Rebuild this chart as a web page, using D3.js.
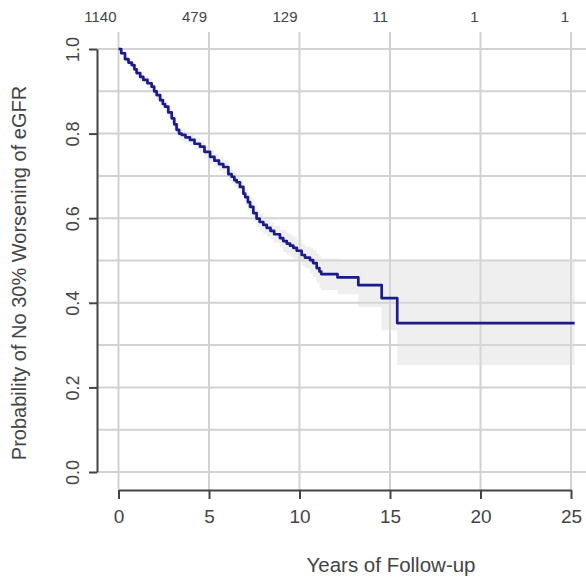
<!DOCTYPE html>
<html>
<head>
<meta charset="utf-8">
<script src="https://cdn.jsdelivr.net/npm/d3@7"></script>
<style>
  body { margin: 0; background: #fff; }
  svg { display: block; font-family: Arial, "Liberation Sans", sans-serif; }
</style>
</head>
<body>
<div id="chart"></div>
<script>
// Kaplan-Meier estimate
var times = [0, 0.15, 0.36, 0.55, 0.73, 0.88, 1.0, 1.2, 1.37, 1.6, 1.83, 1.97, 2.11, 2.3, 2.45, 2.57,
             2.75, 2.94, 3.08, 3.21, 3.35, 3.49, 3.7, 3.95, 4.2, 4.5, 4.75, 5.06, 5.3, 5.55, 5.79,
             6.07, 6.25, 6.4, 6.53, 6.71, 6.9, 7.0, 7.15, 7.27, 7.45, 7.63, 7.8, 8.0, 8.19, 8.4,
             8.6, 8.92, 9.1, 9.3, 9.48, 9.66, 9.85, 10.12, 10.3, 10.58, 10.75, 10.95, 11.1, 11.2,
             12.1, 13.25, 14.54, 15.4, 25.2]
var surv = [1.000, 0.990, 0.976, 0.968, 0.962, 0.952, 0.943, 0.934, 0.927, 0.919, 0.911, 0.900, 0.891, 0.879, 0.870, 0.864,
            0.850, 0.836, 0.822, 0.809, 0.800, 0.797, 0.791, 0.785, 0.776, 0.769, 0.757, 0.745, 0.736, 0.728, 0.721,
            0.704, 0.698, 0.690, 0.685, 0.674, 0.658, 0.650, 0.638, 0.627, 0.612, 0.599, 0.591, 0.584, 0.577, 0.570,
            0.562, 0.553, 0.546, 0.540, 0.535, 0.530, 0.523, 0.513, 0.507, 0.501, 0.494, 0.482, 0.474, 0.468,
            0.460, 0.442, 0.411, 0.352, 0.352]
var ciLower = [1.000, 0.984, 0.970, 0.959, 0.953, 0.943, 0.934, 0.925, 0.918, 0.907, 0.899, 0.888, 0.879, 0.867, 0.858, 0.852,
               0.838, 0.824, 0.808, 0.795, 0.786, 0.783, 0.777, 0.771, 0.762, 0.755, 0.743, 0.729, 0.720, 0.712, 0.705,
               0.688, 0.682, 0.674, 0.669, 0.658, 0.642, 0.630, 0.618, 0.607, 0.592, 0.579, 0.571, 0.564, 0.557, 0.550,
               0.542, 0.533, 0.520, 0.514, 0.509, 0.504, 0.497, 0.487, 0.481, 0.471, 0.462, 0.446, 0.436, 0.430,
               0.420, 0.390, 0.335, 0.253, 0.253]
var ciUpper = [1.000, 0.996, 0.982, 0.977, 0.971, 0.961, 0.952, 0.943, 0.936, 0.931, 0.923, 0.912, 0.903, 0.891, 0.882, 0.876,
               0.862, 0.848, 0.836, 0.823, 0.814, 0.811, 0.805, 0.799, 0.790, 0.783, 0.771, 0.761, 0.752, 0.744, 0.737,
               0.720, 0.714, 0.706, 0.701, 0.690, 0.674, 0.670, 0.658, 0.647, 0.632, 0.619, 0.611, 0.604, 0.597, 0.590,
               0.582, 0.573, 0.572, 0.566, 0.561, 0.556, 0.549, 0.539, 0.533, 0.531, 0.524, 0.516, 0.510, 0.505,
               0.500, 0.500, 0.500, 0.501, 0.501]

var xTicks = [0, 5, 10, 15, 20, 25]
var atRisk = [1140, 479, 129, 11, 1, 1]
var yTicks = [0, 0.2, 0.4, 0.6, 0.8, 1.0]
var yGrid = [0, 0.1, 0.2, 0.3, 0.4, 0.5, 0.6, 0.7, 0.8, 0.9, 1.0]

var width = 586
var height = 579

var svg = d3.select('#chart')
  .append('svg')
    .attr('width', width)
    .attr('height', height)

var x = d3.scaleLinear().domain([0, 25]).range([118.5, 571])
var y = d3.scaleLinear().domain([0, 1]).range([472, 49])

var axisX = 97
var axisY = 490

// grid
svg.append('g').selectAll('line')
  .data(xTicks)
  .enter().append('line')
    .attr('x1', function(d) { return x(d) })
    .attr('x2', function(d) { return x(d) })
    .attr('y1', 32)
    .attr('y2', axisY)
    .attr('stroke', '#d2d2d2')
    .attr('stroke-width', 2)

svg.append('g').selectAll('line')
  .data(yGrid)
  .enter().append('line')
    .attr('x1', axisX)
    .attr('x2', width)
    .attr('y1', function(d) { return y(d) })
    .attr('y2', function(d) { return y(d) })
    .attr('stroke', '#d2d2d2')
    .attr('stroke-width', 2)

var data = times.map(function(t, i) {
  return {t: t, s: surv[i], lo: ciLower[i], hi: ciUpper[i]}
})

// confidence band
var band = d3.area()
  .x(function(d) { return x(d.t) })
  .y0(function(d) { return y(d.lo) })
  .y1(function(d) { return y(d.hi) })
  .curve(d3.curveStepAfter)

svg.append('path')
  .datum(data)
  .attr('d', band)
  .attr('fill', '#dcdcdc')
  .attr('opacity', 0.45)

var line = d3.line()
  .x(function(d) { return x(d.t) })
  .y(function(d) { return y(d.s) })
  .curve(d3.curveStepAfter)

svg.append('path')
  .datum(data)
  .attr('d', line)
  .attr('fill', 'none')
  .attr('stroke', '#1b1b8c')
  .attr('stroke-width', 2.7)
  .attr('stroke-linejoin', 'round')

// x axis
var gx = svg.append('g')
  .attr('transform', 'translate(0,' + axisY + ')')
  .call(d3.axisBottom(x).tickValues(xTicks).tickSize(9).tickSizeOuter(0).tickPadding(11))
gx.select('.domain').attr('stroke', '#444').attr('stroke-width', 2)
gx.selectAll('.tick line').attr('stroke', '#444').attr('stroke-width', 2)
gx.selectAll('.tick text')
  .attr('fill', '#444')
  .style('font-size', '19px')

// y axis
var gy = svg.append('g')
  .attr('transform', 'translate(' + axisX + ',0)')
  .call(d3.axisLeft(y).tickValues(yTicks).tickSize(8).tickSizeOuter(0).tickFormat(d3.format('.1f')))
gy.select('.domain').attr('stroke', '#444').attr('stroke-width', 2)
gy.selectAll('.tick line').attr('stroke', '#444').attr('stroke-width', 2)
gy.selectAll('.tick text')
  .attr('x', 0)
  .attr('dy', 0)
  .attr('transform', 'translate(-18.5,0) rotate(-90)')
  .attr('text-anchor', 'middle')
  .attr('fill', '#444')
  .style('font-size', '18px')

// numbers at risk
svg.append('g').selectAll('text')
  .data(atRisk)
  .enter().append('text')
    .attr('x', function(d, i) { return x(xTicks[i]) - 2 })
    .attr('y', 22)
    .attr('text-anchor', 'end')
    .attr('fill', '#444')
    .style('font-size', '15px')
    .text(function(d) { return d })

// titles
svg.append('text')
  .attr('x', 391)
  .attr('y', 572)
  .attr('text-anchor', 'middle')
  .attr('fill', '#444')
  .style('font-size', '20.5px')
  .text('Years of Follow-up')

svg.append('text')
  .attr('transform', 'translate(26,273) rotate(-90)')
  .attr('text-anchor', 'middle')
  .attr('fill', '#444')
  .style('font-size', '20px')
  .text('Probability of No 30% Worsening of eGFR')
</script>
</body>
</html>
